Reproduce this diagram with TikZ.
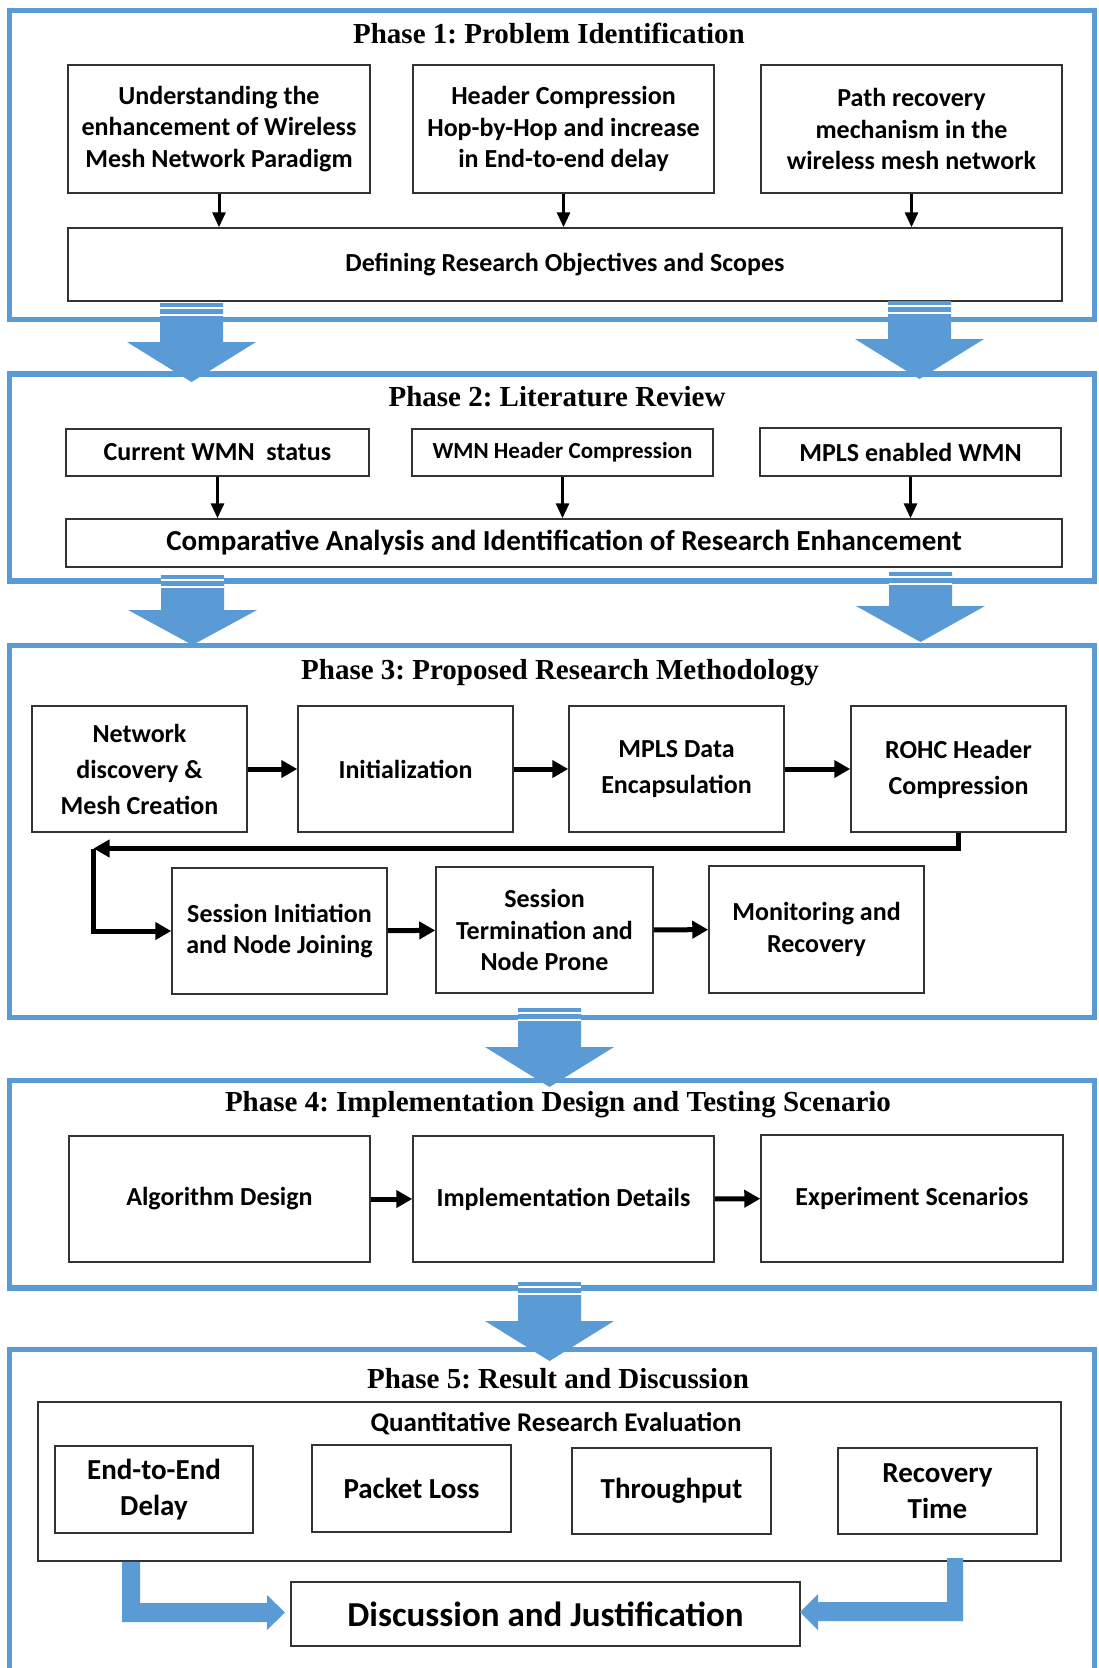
\documentclass[tikz,border=0pt]{standalone}
\usepackage{fontspec}
\setmainfont{Liberation Serif}
\newfontfamily\calibrifont{Carlito}
\usetikzlibrary{arrows.meta}
\definecolor{phase_blue}{HTML}{5B9BD5}
\frenchspacing
\tikzset{
    phase_frame/.style = {
        draw=phase_blue,
        line width=5.5pt
    },
    phase_title/.style = {
        inner sep=0pt,
        font=\bfseries\fontsize{29}{34}\selectfont
    },
    step_box/.style = {
        draw=black!80,
        line width=1.5pt,
        fill=white,
        align=center,
        inner sep=0pt,
        font=\calibrifont\bfseries\fontsize{26}{31.7}\selectfont
    },
    wide_step_box/.style = {
        step_box,
        font=\calibrifont\bfseries\fontsize{26}{36}\selectfont
    },
    flow_arrow/.style = {
        draw=black,
        line width=3pt,
        -{Triangle[length=15pt, width=13pt]}
    },
    thick_arrow/.style = {
        draw=black,
        line width=5pt,
        -{Triangle[length=16pt, width=17pt]}
    },
    block_arrow/.style = {
        fill=phase_blue,
        draw=none
    },
    stripe/.style = {
        draw=white,
        line width=1.8pt
    },
}
\begin{document}
\begin{tikzpicture}[x=1pt, y=-1pt]
    \useasboundingbox (0,0) rectangle (1098,1668);
    \fill[white] (0,0) rectangle (1098,1668);

    % phase frames
    \draw[phase_frame] (9.5,10.5) rectangle (1094.5,319.5);
    \draw[phase_frame] (9.5,374) rectangle (1094.5,581);
    \draw[phase_frame] (9.5,645.5) rectangle (1094.5,1017.5);
    \draw[phase_frame] (9.5,1080.5) rectangle (1094.5,1288);
    \draw[phase_frame] (9.5,1668) -- (9.5,1349.5) -- (1094.5,1349.5) -- (1094.5,1668);

    % phase 1
    \node[phase_title] (t1) at (549,33) {Phase 1: Problem Identification};
    \node[step_box, minimum width=302, minimum height=128] (p1a) at (219,129)
        {Understanding the\\enhancement of Wireless\\Mesh Network Paradigm};
    \node[step_box, minimum width=301, minimum height=128] (p1b) at (563.5,129)
        {Header Compression\\Hop-by-Hop and increase\\in End-to-end delay};
    \node[step_box, minimum width=301, minimum height=128] (p1c) at (911.5,129)
        {Path recovery\\mechanism in the\\wireless mesh network};
    \node[step_box, minimum width=994, minimum height=73] (p1d) at (565,264.5)
        {Defining Research Objectives and Scopes};
    \foreach \n in {p1a, p1b, p1c}
        \draw[flow_arrow] (\n.south) -- (\n.south |- p1d.north);

    % phase 2
    \node[phase_title] (t2) at (557,397) {Phase 2: Literature Review};
    \node[step_box, minimum width=303, minimum height=47] (p2a) at (217.5,452.5)
        {Current WMN ~status};
    \node[step_box, minimum width=301, minimum height=47,
          font=\calibrifont\bfseries\fontsize{23}{28}\selectfont] (p2b) at (562.5,452.5)
        {WMN Header Compression};
    \node[step_box, minimum width=301, minimum height=48] (p2c) at (910.5,452)
        {MPLS enabled WMN};
    \node[step_box, minimum width=996, minimum height=48,
          font=\calibrifont\bfseries\fontsize{29}{34}\selectfont] (p2d) at (564,543)
        {Comparative Analysis and Identification of Research Enhancement};
    \foreach \n in {p2a, p2b, p2c}
        \draw[flow_arrow] (\n.south) -- (\n.south |- p2d.north);

    % phase 3
    \node[phase_title] (t3) at (560,673) {Phase 3: Proposed Research Methodology};
    \node[wide_step_box, minimum width=215, minimum height=126] (p3a) at (139.5,769)
        {Network\\discovery \&\\Mesh Creation};
    \node[wide_step_box, minimum width=215, minimum height=126] (p3b) at (405.5,769)
        {Initialization};
    \node[wide_step_box, minimum width=215, minimum height=126] (p3c) at (676.5,769)
        {MPLS Data\\Encapsulation};
    \node[wide_step_box, minimum width=215, minimum height=126] (p3d) at (958.5,769)
        {ROHC Header\\Compression};
    \node[step_box, minimum width=215, minimum height=126] (p3e) at (279.5,931)
        {Session Initiation\\and Node Joining};
    \node[step_box, minimum width=217, minimum height=126] (p3f) at (544.5,930)
        {Session\\Termination and\\Node Prone};
    \node[step_box, minimum width=215, minimum height=127] (p3g) at (816.5,929.5)
        {Monitoring and\\Recovery};
    \draw[thick_arrow] (p3a) -- (p3b);
    \draw[thick_arrow] (p3b) -- (p3c);
    \draw[thick_arrow] (p3c) -- (p3d);
    \coordinate (turn) at (93.5,848.5);
    \draw[thick_arrow] (p3d.south) -- (p3d.south |- turn) -- (turn);
    \draw[thick_arrow] (turn) -- (turn |- p3e.west) -- (p3e.west);
    \draw[thick_arrow] (p3e) -- (p3f);
    \draw[thick_arrow] (p3f) -- (p3g);

    % phase 4
    \node[phase_title] (t4) at (558,1105) {Phase 4: Implementation Design and Testing Scenario};
    \node[step_box, minimum width=301, minimum height=126] (p4a) at (219.5,1199)
        {Algorithm Design};
    \node[step_box, minimum width=301, minimum height=126] (p4b) at (563.5,1199)
        {Implementation Details};
    \node[step_box, minimum width=302, minimum height=127] (p4c) at (912,1198.5)
        {Experiment Scenarios};
    \draw[thick_arrow] (p4a) -- (p4b);
    \draw[thick_arrow] (p4b) -- (p4c);

    % phase 5
    \node[phase_title] (t5) at (558,1379) {Phase 5: Result and Discussion};
    \node[step_box, minimum width=1023, minimum height=159] (p5) at (549.5,1481.5) {};
    \node[inner sep=0pt, font=\calibrifont\bfseries\fontsize{27}{32}\selectfont] (p5t) at (556,1424)
        {Quantitative Research Evaluation};
    \node[step_box, minimum width=198, minimum height=87,
          font=\calibrifont\bfseries\fontsize{29}{36}\selectfont] (p5a) at (154,1489.5)
        {End-to-End\\Delay};
    \node[step_box, minimum width=199, minimum height=87,
          font=\calibrifont\bfseries\fontsize{29}{36}\selectfont] (p5b) at (411.5,1488.5)
        {Packet Loss};
    \node[step_box, minimum width=199, minimum height=86,
          font=\calibrifont\bfseries\fontsize{29}{36}\selectfont] (p5c) at (671.5,1491)
        {Throughput};
    \node[step_box, minimum width=199, minimum height=86,
          font=\calibrifont\bfseries\fontsize{29}{36}\selectfont] (p5d) at (937.5,1491)
        {Recovery\\Time};
    \node[step_box, minimum width=509, minimum height=64,
          font=\calibrifont\bfseries\fontsize{35}{40}\selectfont] (p5e) at (545.5,1614)
        {Discussion and Justification};

    % block arrows between phases
    \foreach \xl/\yt/\yh/\yp in {160/303/342/382, 888/301/339/379, 161/575/610/645,
                                 889/572/606/642, 518/1008/1047/1087, 518/1282/1321/1361} {
        \path[block_arrow] (\xl,\yt) -- (\xl+63,\yt) -- (\xl+63,\yh) -- (\xl+96,\yh)
            -- (\xl+31.5,\yp) -- (\xl-33,\yh) -- (\xl,\yh) -- cycle;
        \draw[stripe] (\xl,\yt+4.7) -- (\xl+63,\yt+4.7);
        \draw[stripe] (\xl,\yt+12.2) -- (\xl+63,\yt+12.2);
    }

    % bent arrows into the discussion
    \path[block_arrow] (p5.south -| 122,0) -- (p5.south -| 140,0) -- (140,1603) -- (267,1603)
        -- (267,1595) -- (285,1612.5) -- (267,1630) -- (267,1622) -- (122,1622) -- cycle;
    \path[block_arrow] (947,1558) -- (963,1558) -- (963,1621) -- (818,1621) -- (818,1630)
        -- (800,1612) -- (818,1594) -- (818,1602) -- (947,1602) -- cycle;
\end{tikzpicture}
\end{document}
